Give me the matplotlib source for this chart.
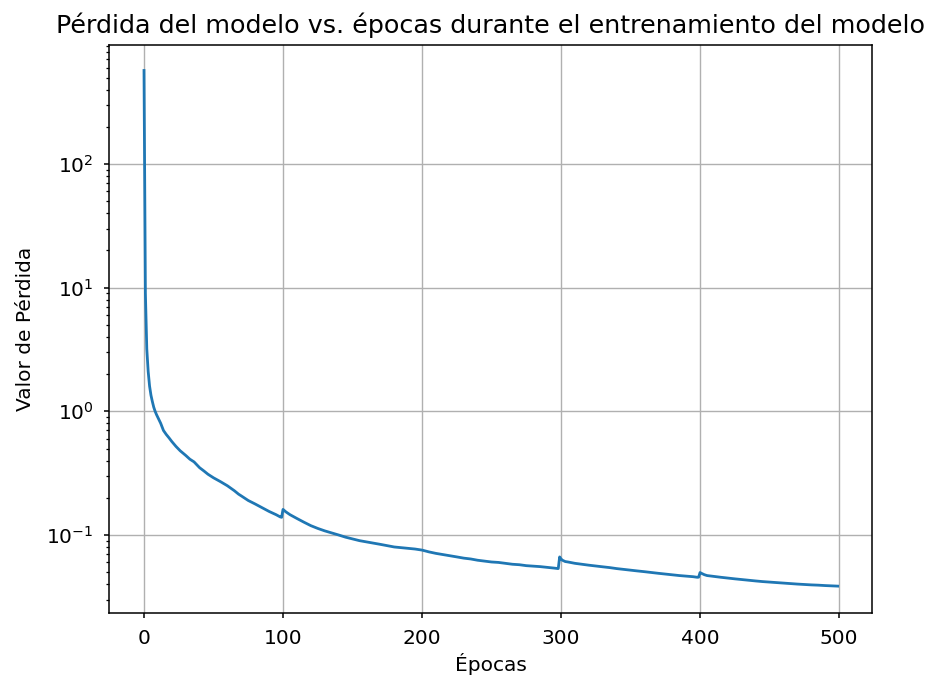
import matplotlib
matplotlib.use('Agg')
import matplotlib.pyplot as plt
import numpy as np

# epochs and loss values
epochs = [0, 1, 2, 3, 4, 5, 6, 7, 8, 9, 10, 12, 14, 16, 18, 20, 23, 26, 30, 33,
          36, 38, 40, 43, 46, 50, 55, 60, 65, 68, 70, 75, 80, 85, 90, 95, 98, 99,
          100, 102, 105, 110, 115, 120, 125, 130, 135, 140, 145, 150, 155, 160,
          165, 170, 175, 180, 185, 190, 195, 200, 205, 210, 215, 220, 225, 230,
          235, 240, 245, 250, 255, 260, 265, 270, 275, 280, 285, 290, 295, 298,
          299, 300, 301, 303, 305, 310, 315, 320, 325, 330, 335, 340, 345, 350,
          355, 360, 365, 370, 375, 380, 385, 390, 395, 398, 399, 400, 401, 403,
          405, 410, 415, 420, 425, 430, 435, 440, 445, 450, 455, 460, 465, 470,
          475, 480, 485, 490, 495, 499]
loss = [570, 9.0, 3.2, 2.1, 1.6, 1.35, 1.2, 1.08, 1.0, 0.94, 0.89, 0.80, 0.70,
        0.65, 0.61, 0.57, 0.52, 0.48, 0.44, 0.41, 0.39, 0.37, 0.35, 0.33, 0.31,
        0.29, 0.27, 0.25, 0.228, 0.214, 0.207, 0.19, 0.178, 0.166, 0.155, 0.146,
        0.140, 0.139, 0.161, 0.154, 0.146, 0.136, 0.127, 0.119, 0.113, 0.108,
        0.104, 0.100, 0.096, 0.093, 0.090, 0.088, 0.086, 0.084, 0.082, 0.080,
        0.079, 0.078, 0.077, 0.0755, 0.073, 0.071, 0.0695, 0.068, 0.0665, 0.065,
        0.064, 0.0625, 0.0615, 0.0605, 0.060, 0.059, 0.058, 0.0575, 0.0565,
        0.056, 0.0555, 0.0548, 0.054, 0.0535, 0.0665, 0.064, 0.0625, 0.061,
        0.0605, 0.059, 0.058, 0.057, 0.0562, 0.0553, 0.0545, 0.0535, 0.0527,
        0.052, 0.0512, 0.0505, 0.0497, 0.049, 0.0483, 0.0477, 0.047, 0.0465,
        0.046, 0.0455, 0.0456, 0.0497, 0.049, 0.0478, 0.047, 0.0462, 0.0455,
        0.0448, 0.0442, 0.0436, 0.043, 0.0425, 0.042, 0.0416, 0.0412, 0.0408,
        0.0404, 0.0401, 0.0398, 0.0395, 0.0393, 0.039, 0.0388, 0.0386]

fig = plt.figure(figsize=(9.32, 6.85), dpi=100)
ax = fig.add_axes([0.1173, 0.1051, 0.8187, 0.8292])
ax.plot(epochs, loss, color='#1f77b4', linewidth=2.0)
ax.set_yscale('log')
ax.set_xlim(-24.95, 523.95)
ax.set_ylim(0.0234, 916)
ax.set_xticks([0, 100, 200, 300, 400, 500])
ax.tick_params(which='major', labelsize=14.5, length=3.8, width=1.1, pad=7.5)
ax.tick_params(which='minor', length=2.2, width=0.9)
for sp in ax.spines.values():
    sp.set_linewidth(1.1)
ax.set_title('Pérdida del modelo vs. épocas durante el entrenamiento del modelo',
             fontsize=18.3, pad=9)
ax.set_xlabel('Épocas', fontsize=14.5, labelpad=3.5)
ax.set_ylabel('Valor de Pérdida', fontsize=14.5, labelpad=8)
ax.grid(linewidth=1.0)
fig.savefig('out.png', dpi=100)
